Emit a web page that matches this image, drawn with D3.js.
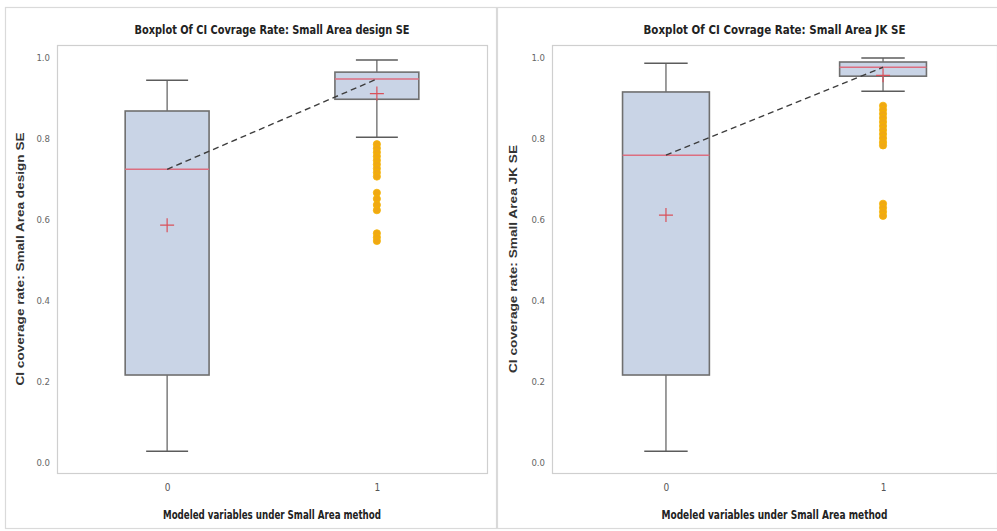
<!DOCTYPE html>
<html>
<head>
<meta charset="utf-8">
<script src="https://cdn.jsdelivr.net/npm/d3@7"></script>
<style>
  html, body { margin: 0; padding: 0; background: #fff; }
  svg { display: block; }
  .narrow { font-family: "Liberation Sans Narrow", "DejaVu Sans Condensed", "Liberation Sans", sans-serif; }
</style>
</head>
<body>
<svg id="chart" width="997" height="531"></svg>
<script>
// Group labels on the x axis
const groups = ["0", "1"];
const yTicks = [0, 0.2, 0.4, 0.6, 0.8, 1.0];

// Panel headings
const panelTitles = [
  "Boxplot Of CI Covrage Rate: Small Area design SE",
  "Boxplot Of CI Covrage Rate: Small Area JK SE"
];
const yTitles = [
  "CI coverage rate: Small Area design SE",
  "CI coverage rate: Small Area JK SE"
];
const xTitle = "Modeled variables under Small Area method";

// Five-number summaries per group: [group 0, group 1]
const designQ1      = [0.215, 0.896];
const designMedian  = [0.723, 0.946];
const designQ3      = [0.867, 0.963];
const designLowWh   = [0.027, 0.802];
const designHighWh  = [0.943, 0.993];
const designMean    = [0.585, 0.910];
const designOutliers1 = [0.785, 0.775, 0.765, 0.755, 0.745, 0.735, 0.725, 0.715, 0.705,
                         0.665, 0.650, 0.635, 0.622, 0.565, 0.555, 0.546];

const jkQ1      = [0.215, 0.953];
const jkMedian  = [0.758, 0.975];
const jkQ3      = [0.914, 0.988];
const jkLowWh   = [0.027, 0.916];
const jkHighWh  = [0.985, 0.998];
const jkMean    = [0.610, 0.955];
const jkOutliers1 = [0.880, 0.870, 0.860, 0.850, 0.840, 0.830, 0.820, 0.810, 0.800, 0.790, 0.782,
                     0.638, 0.628, 0.618, 0.608];

function buildStats(q1, med, q3, lo, hi, mean, out1) {
  return groups.map((g, i) => ({
    group: g, q1: q1[i], median: med[i], q3: q3[i], lo: lo[i], hi: hi[i], mean: mean[i],
    outliers: i === 1 ? out1 : []
  }));
}

const panels = [
  { title: panelTitles[0], yTitle: yTitles[0],
    stats: buildStats(designQ1, designMedian, designQ3, designLowWh, designHighWh, designMean, designOutliers1),
    frame: [5, 7, 491, 521], plot: [57, 45, 487, 473], yTitleX: 20,
    titleLen: 275, xTitleLen: 218, yTitleLen: 253 },
  { title: panelTitles[1], yTitle: yTitles[1],
    stats: buildStats(jkQ1, jkMedian, jkQ3, jkLowWh, jkHighWh, jkMean, jkOutliers1),
    frame: [497, 7, 510, 521], plot: [552, 45, 997, 473], yTitleX: 513,
    titleLen: 262, xTitleLen: 226, yTitleLen: 228 }
];

const svg = d3.select("#chart");

panels.forEach(p => {
  const [fx, fy, fw, fh] = p.frame;
  const [L, T, R, B] = p.plot;
  const g = svg.append("g");

  // outer panel frame
  g.append("rect").attr("x", fx + 0.5).attr("y", fy + 0.5).attr("width", fw).attr("height", fh)
    .attr("fill", "#fff").attr("stroke", "#dadada").attr("stroke-width", 1.2);

  const x = d3.scalePoint().domain(groups).range([L, R]).padding(0.525);
  const step = x.step();
  const boxW = step * 0.4;
  const capW = boxW * 0.5;
  const y = d3.scaleLinear().domain([-0.027, 1.03]).range([B, T]);

  // plot area wall
  g.append("rect").attr("x", L + 0.5).attr("y", T + 0.5).attr("width", R - L).attr("height", B - T)
    .attr("fill", "#fff").attr("stroke", "#cfcfcf").attr("stroke-width", 1.2);

  // y axis labels
  const yAxis = d3.axisLeft(y).tickValues(yTicks).tickFormat(d3.format(".1f")).tickSize(0).tickPadding(7);
  const ya = g.append("g").attr("transform", `translate(${L},0)`).call(yAxis);
  ya.select(".domain").remove();
  ya.selectAll("text").attr("class", "narrow").attr("font-size", 9.5).attr("fill", "#666");

  // x axis labels
  const xAxis = d3.axisBottom(x).tickSize(0).tickPadding(11);
  const xa = g.append("g").attr("transform", `translate(0,${B})`).call(xAxis);
  xa.select(".domain").remove();
  xa.selectAll("text").attr("class", "narrow").attr("font-size", 10).attr("fill", "#555");

  const boxes = g.selectAll(".box").data(p.stats).enter().append("g").attr("class", "box");

  // whiskers
  boxes.append("line").attr("x1", d => x(d.group)).attr("x2", d => x(d.group))
    .attr("y1", d => y(d.q3)).attr("y2", d => y(d.hi)).attr("stroke", "#5c5c5c").attr("stroke-width", 1.2);
  boxes.append("line").attr("x1", d => x(d.group)).attr("x2", d => x(d.group))
    .attr("y1", d => y(d.q1)).attr("y2", d => y(d.lo)).attr("stroke", "#5c5c5c").attr("stroke-width", 1.2);
  boxes.append("line").attr("x1", d => x(d.group) - capW / 2).attr("x2", d => x(d.group) + capW / 2)
    .attr("y1", d => y(d.hi)).attr("y2", d => y(d.hi)).attr("stroke", "#5c5c5c").attr("stroke-width", 1.5);
  boxes.append("line").attr("x1", d => x(d.group) - capW / 2).attr("x2", d => x(d.group) + capW / 2)
    .attr("y1", d => y(d.lo)).attr("y2", d => y(d.lo)).attr("stroke", "#5c5c5c").attr("stroke-width", 1.5);

  // boxes
  boxes.append("rect").attr("x", d => x(d.group) - boxW / 2).attr("width", boxW)
    .attr("y", d => y(d.q3)).attr("height", d => y(d.q1) - y(d.q3))
    .attr("fill", "#c9d4e6").attr("stroke", "#6f6f6f").attr("stroke-width", 1.6);

  // medians
  boxes.append("line").attr("x1", d => x(d.group) - boxW / 2).attr("x2", d => x(d.group) + boxW / 2)
    .attr("y1", d => y(d.median)).attr("y2", d => y(d.median))
    .attr("stroke", "#dc6e80").attr("stroke-width", 1.5);

  // means
  const ms = 7;
  boxes.append("path")
    .attr("d", d => `M${x(d.group) - ms},${y(d.mean)}H${x(d.group) + ms}M${x(d.group)},${y(d.mean) - ms}V${y(d.mean) + ms}`)
    .attr("stroke", "#d9505a").attr("stroke-width", 1.2).attr("fill", "none");

  // outliers
  boxes.each(function(d) {
    d3.select(this).selectAll("circle").data(d.outliers).enter().append("circle")
      .attr("cx", x(d.group)).attr("cy", v => y(v)).attr("r", 3.6)
      .attr("fill", "#f0a814").attr("stroke", "#f5b400").attr("stroke-width", 0.8);
  });

  // connect medians
  const line = d3.line().x(d => x(d.group)).y(d => y(d.median));
  g.append("path").datum(p.stats).attr("d", line)
    .attr("fill", "none").attr("stroke", "#3d3d3d").attr("stroke-width", 1.4)
    .attr("stroke-dasharray", "6,4");

  // titles
  const cx = (L + R) / 2;
  g.append("text").attr("class", "narrow").attr("x", cx).attr("y", 34).attr("text-anchor", "middle")
    .attr("font-size", 12.5).attr("font-weight", "bold").attr("fill", "#222")
    .attr("textLength", p.titleLen).attr("lengthAdjust", "spacingAndGlyphs").text(p.title);

  g.append("text").attr("class", "narrow").attr("x", cx).attr("y", 519).attr("text-anchor", "middle")
    .attr("font-size", 12.5).attr("font-weight", "bold").attr("fill", "#222")
    .attr("textLength", p.xTitleLen).attr("lengthAdjust", "spacingAndGlyphs").text(xTitle);

  g.append("text").attr("transform", `translate(${p.yTitleX + 4},${(T + B) / 2}) rotate(-90)`)
    .attr("text-anchor", "middle").attr("font-family", "'Liberation Sans', Arial, sans-serif")
    .attr("font-size", 11.5).attr("font-weight", "bold").attr("fill", "#333")
    .attr("textLength", p.yTitleLen).attr("lengthAdjust", "spacingAndGlyphs").text(p.yTitle);
});
</script>
</body>
</html>
